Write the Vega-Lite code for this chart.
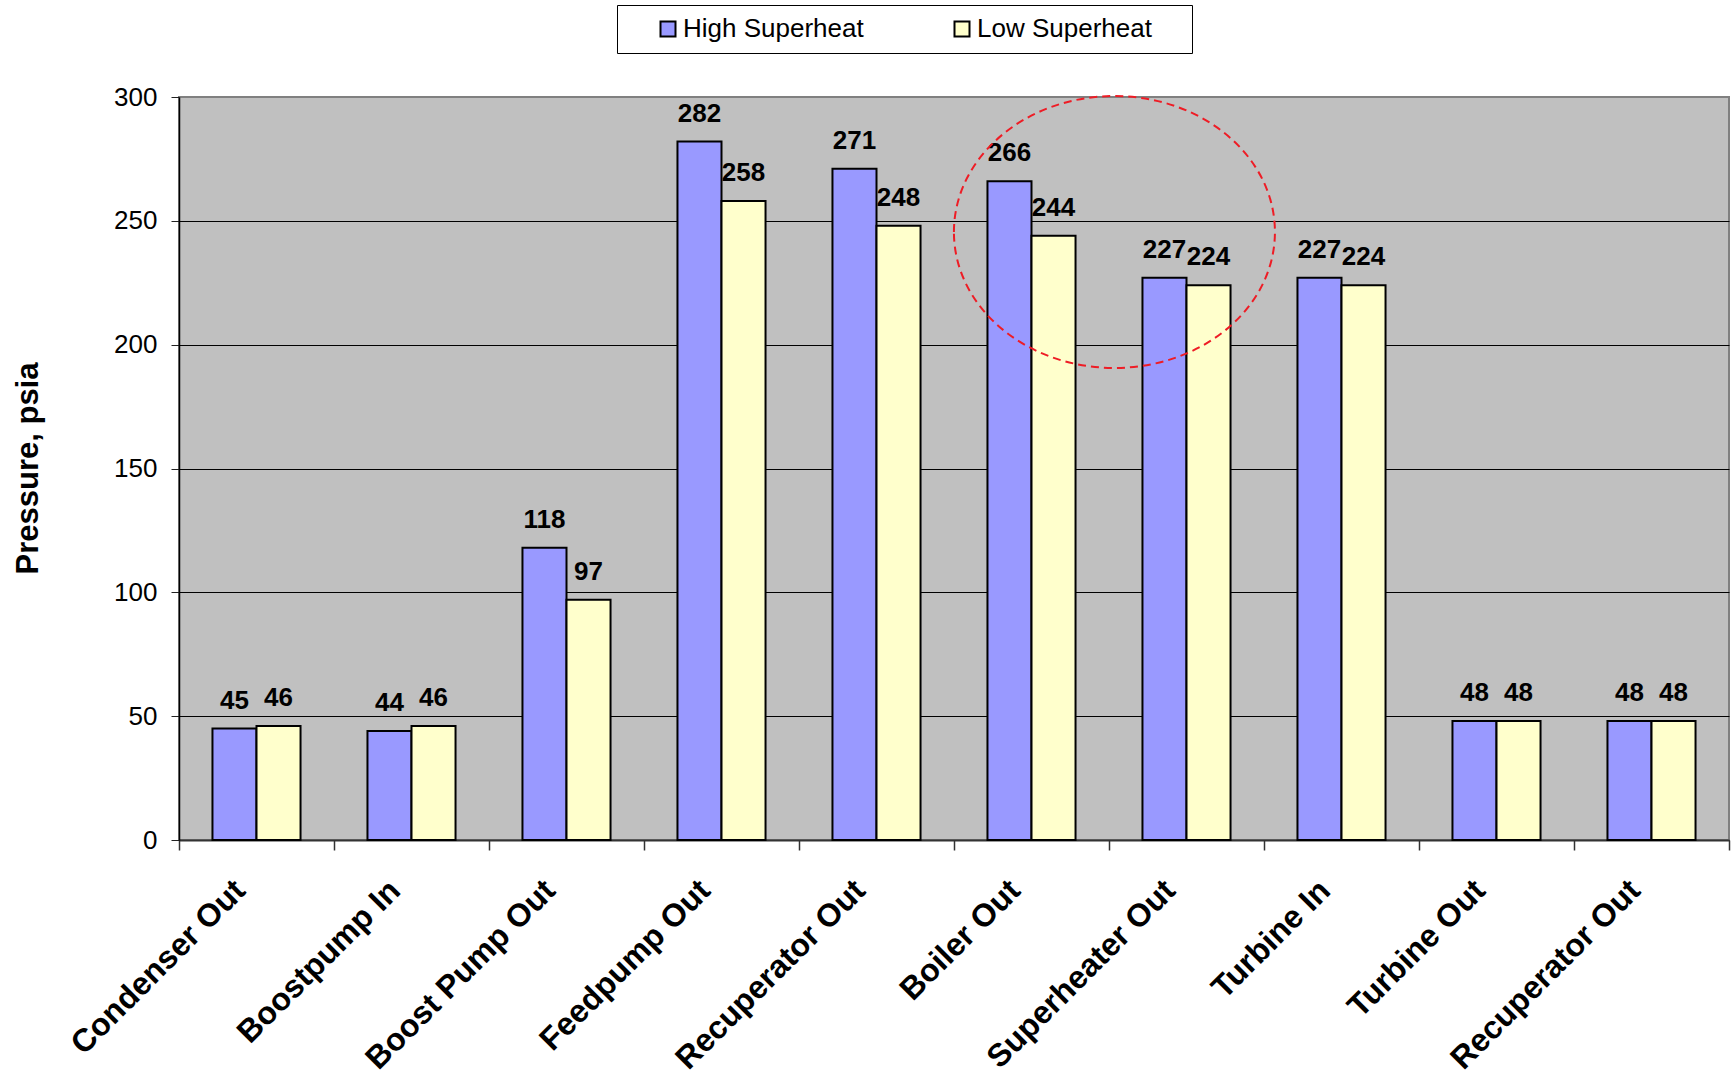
{
  "$schema": "https://vega.github.io/schema/vega-lite/v6.json",
  "autosize": {"type": "none"},
  "padding": {"left": 179, "top": 97, "right": 2, "bottom": 234},
  "width": 1550,
  "height": 743,
  "background": "white",
  "config": {
    "view": {"fill": "#C0C0C0", "stroke": "#808080", "strokeWidth": 2},
    "font": "Liberation Sans"
  },
  "datasets": {
    "pressure": [
      {"stage": "Condenser Out", "series": "High Superheat", "value": 45},
      {"stage": "Condenser Out", "series": "Low Superheat", "value": 46},
      {"stage": "Boostpump In", "series": "High Superheat", "value": 44},
      {"stage": "Boostpump In", "series": "Low Superheat", "value": 46},
      {"stage": "Boost Pump Out", "series": "High Superheat", "value": 118},
      {"stage": "Boost Pump Out", "series": "Low Superheat", "value": 97},
      {"stage": "Feedpump Out", "series": "High Superheat", "value": 282},
      {"stage": "Feedpump Out", "series": "Low Superheat", "value": 258},
      {"stage": "Recuperator Out", "series": "High Superheat", "value": 271},
      {"stage": "Recuperator Out", "series": "Low Superheat", "value": 248},
      {"stage": "Boiler Out", "series": "High Superheat", "value": 266},
      {"stage": "Boiler Out", "series": "Low Superheat", "value": 244},
      {"stage": "Superheater Out", "series": "High Superheat", "value": 227},
      {"stage": "Superheater Out", "series": "Low Superheat", "value": 224},
      {"stage": "Turbine In", "series": "High Superheat", "value": 227},
      {"stage": "Turbine In", "series": "Low Superheat", "value": 224},
      {"stage": "Turbine Out", "series": "High Superheat", "value": 48},
      {"stage": "Turbine Out", "series": "Low Superheat", "value": 48},
      {"stage": "Recuperator Out ", "series": "High Superheat", "value": 48},
      {"stage": "Recuperator Out ", "series": "Low Superheat", "value": 48}
    ],
    "highlight": [
      {"stage": "Superheater Out", "value": 245.5}
    ]
  },
  "data": {"name": "pressure"},
  "encoding": {
    "x": {
      "field": "stage",
      "type": "nominal",
      "scale": {
        "domain": ["Condenser Out", "Boostpump In", "Boost Pump Out", "Feedpump Out", "Recuperator Out", "Boiler Out", "Superheater Out", "Turbine In", "Turbine Out", "Recuperator Out "],
        "paddingInner": 0,
        "paddingOuter": 0
      },
      "axis": {
        "title": null,
        "grid": false,
        "tickBand": "extent",
        "labelAngle": -45,
        "labelAlign": "right",
        "labelBaseline": "middle",
        "labelFontSize": 32,
        "labelFontWeight": "bold",
        "labelColor": "black",
        "labelPadding": 35,
        "labelOffset": -17,
        "labelLimit": 600,
        "labelOverlap": false,
        "labelBound": false,
        "labelExpr": "trim(datum.label)",
        "tickSize": 10,
        "tickColor": "#333333",
        "tickWidth": 1.5,
        "domainColor": "#333333",
        "domainWidth": 2
      }
    },
    "y": {
      "field": "value",
      "type": "quantitative",
      "scale": {"domain": [0, 300], "nice": false},
      "axis": {
        "values": [0, 50, 100, 150, 200, 250, 300],
        "title": "Pressure, psia",
        "titleFontSize": 31,
        "titleFontWeight": "bold",
        "titleColor": "black",
        "titleX": -142,
        "titleY": 371,
        "titleAngle": -90,
        "titleAlign": "center",
        "titleBaseline": "alphabetic",
        "labelFontSize": 26,
        "labelColor": "black",
        "labelPadding": 14,
        "tickSize": 8,
        "tickColor": "#222222",
        "domainColor": "black",
        "domainWidth": 1.5,
        "grid": true,
        "gridColor": {"condition": {"test": "datum.value === 300", "value": "#808080"}, "value": "black"},
        "gridWidth": 1,
        "gridOpacity": 1
      }
    }
  },
  "layer": [
    {
      "mark": {"type": "bar", "stroke": "black", "strokeWidth": 2, "opacity": 1},
      "encoding": {
        "xOffset": {"field": "series", "type": "nominal", "scale": {"paddingInner": 0, "paddingOuter": 0.76}},
        "color": {
          "field": "series",
          "type": "nominal",
          "scale": {"domain": ["High Superheat", "Low Superheat"], "range": ["#9999FF", "#FFFFCC"]},
          "legend": {
            "orient": "none",
            "legendX": 438,
            "legendY": -92,
            "direction": "horizontal",
            "fillColor": "white",
            "strokeColor": "black",
            "padding": 11,
            "title": "\u00a0",
            "titleOrient": "left",
            "titleFontSize": 26,
            "titlePadding": 27,
            "labelFontSize": 26,
            "labelColor": "black",
            "labelOffset": 2,
            "labelLimit": 600,
            "labelExpr": "datum.label + '\u00a0\u00a0\u00a0\u00a0\u200b'",
            "symbolType": "square",
            "symbolSize": 225,
            "symbolStrokeColor": "black",
            "symbolStrokeWidth": 2,
            "symbolOpacity": 1,
            "columnPadding": 56
          }
        }
      }
    },
    {
      "mark": {"type": "text", "fontSize": 26, "fontWeight": "bold", "baseline": "alphabetic", "dy": -20, "color": "black"},
      "encoding": {
        "xOffset": {"field": "series", "type": "nominal", "scale": {"paddingInner": 0, "paddingOuter": 0.76}},
        "text": {"field": "value", "type": "quantitative"}
      }
    },
    {
      "data": {"name": "highlight"},
      "mark": {
        "type": "point",
        "shape": "M -1 0 C -1 -0.4678 -0.5523 -0.847 0 -0.847 C 0.5523 -0.847 1 -0.4678 1 0 C 1 0.4678 0.5523 0.847 0 0.847 C -0.5523 0.847 -1 0.4678 -1 0 Z",
        "size": 103041,
        "filled": false,
        "stroke": "#EE1C25",
        "strokeWidth": 2,
        "strokeDash": [8, 5],
        "opacity": 1
      },
      "encoding": {
        "x": {
          "field": "stage",
          "type": "nominal",
          "bandPosition": 0.035,
          "scale": {
            "domain": ["Condenser Out", "Boostpump In", "Boost Pump Out", "Feedpump Out", "Recuperator Out", "Boiler Out", "Superheater Out", "Turbine In", "Turbine Out", "Recuperator Out "],
            "paddingInner": 0,
            "paddingOuter": 0
          },
          "axis": {
            "title": null,
            "grid": false,
            "tickBand": "extent",
            "labelAngle": -45,
            "labelAlign": "right",
            "labelBaseline": "middle",
            "labelFontSize": 32,
            "labelFontWeight": "bold",
            "labelColor": "black",
            "labelPadding": 35,
            "labelOffset": -17,
            "labelLimit": 600,
            "labelOverlap": false,
            "labelBound": false,
            "labelExpr": "trim(datum.label)",
            "tickSize": 10,
            "tickColor": "#333333",
            "tickWidth": 1.5,
            "domainColor": "#333333",
            "domainWidth": 2
          }
        }
      }
    }
  ]
}
